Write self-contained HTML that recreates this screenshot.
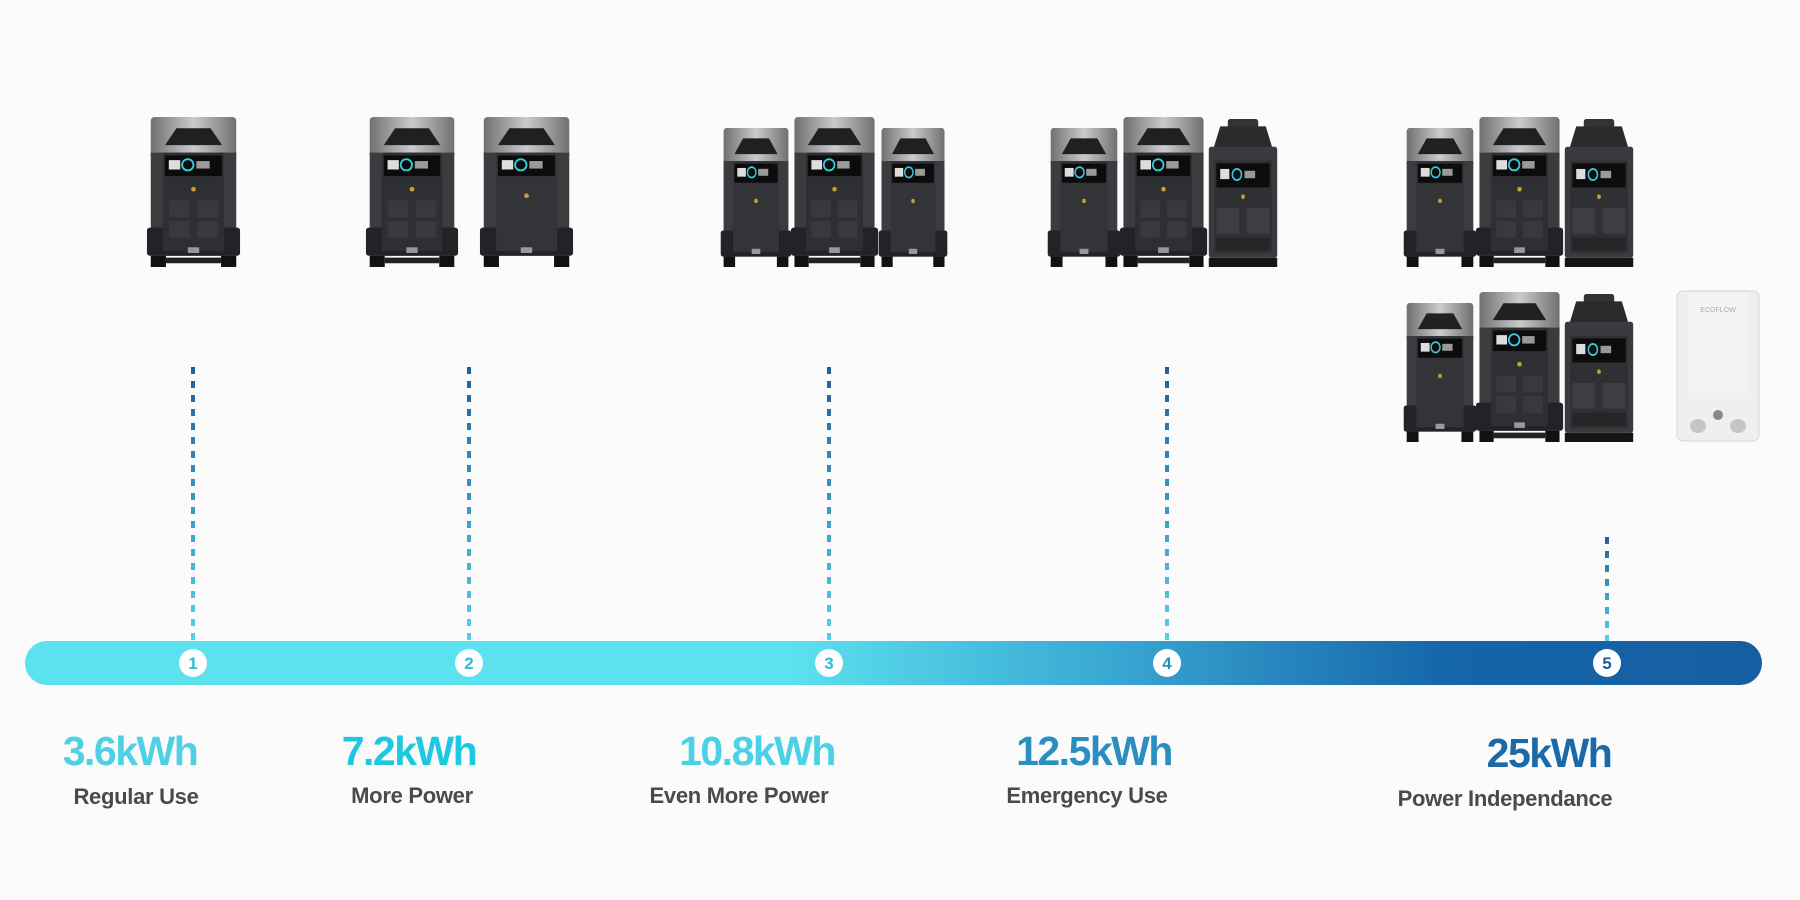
<!DOCTYPE html>
<html><head><meta charset="utf-8"><style>
html,body{margin:0;padding:0;background:#fbfbfb;}
#c{position:relative;width:1800px;height:900px;overflow:hidden;background:#fbfbfb;font-family:"Liberation Sans",sans-serif;}
svg.d{position:absolute;}
.v{position:absolute;font-weight:bold;font-size:41px;letter-spacing:-1.5px;transform:translateX(-50%);white-space:nowrap;line-height:1;}
.l{position:absolute;font-weight:bold;font-size:22px;letter-spacing:-0.3px;color:#4a4a4c;transform:translateX(-50%);white-space:nowrap;line-height:1;}
</style></head><body><div id="c">
<svg width="0" height="0" style="position:absolute">
<defs>
<linearGradient id="sil" x1="0" x2="1"><stop offset="0" stop-color="#6e7072"/><stop offset=".5" stop-color="#c9cbcd"/><stop offset="1" stop-color="#6e7072"/></linearGradient>
<symbol id="pro" viewBox="0 0 100 160" preserveAspectRatio="none">
<rect x="5" y="0" width="90" height="45" rx="4" fill="url(#sil)"/>
<path d="M20 30 L32 12 L68 12 L80 30 Z" fill="#1f2022"/>
<rect x="5" y="38" width="90" height="110" fill="#3b3c3f"/>
<rect x="1" y="118" width="98" height="30" rx="3" fill="#222326"/>
<rect x="18" y="38" width="64" height="105" rx="2" fill="#2e2f32"/>
<rect x="20" y="41" width="60" height="22" fill="#0c0c0d"/>
<rect x="24" y="46" width="12" height="10" fill="#ddd"/>
<circle cx="44" cy="51" r="6" fill="none" stroke="#38c8e0" stroke-width="2"/>
<rect x="53" y="47" width="14" height="8" fill="#999"/>
<circle cx="50" cy="77" r="2.5" fill="#c9a030"/>
<rect x="24" y="89" width="22" height="18" fill="#38393c"/><rect x="54" y="89" width="22" height="18" fill="#38393c"/>
<rect x="24" y="111" width="22" height="18" fill="#38393c"/><rect x="54" y="111" width="22" height="18" fill="#38393c"/>
<rect x="44" y="139" width="12" height="6" fill="#999"/>
<rect x="5" y="148" width="16" height="12" fill="#111"/><rect x="79" y="148" width="16" height="12" fill="#111"/>
<rect x="21" y="150" width="58" height="6" fill="#222"/>
</symbol>
<symbol id="bat" viewBox="0 0 100 160" preserveAspectRatio="none">
<rect x="5" y="0" width="90" height="45" rx="4" fill="url(#sil)"/>
<path d="M20 30 L32 12 L68 12 L80 30 Z" fill="#1f2022"/>
<rect x="5" y="38" width="90" height="110" fill="#3b3c3f"/>
<rect x="1" y="118" width="98" height="30" rx="3" fill="#222326"/>
<rect x="18" y="38" width="64" height="105" rx="2" fill="#333437"/>
<rect x="20" y="41" width="60" height="22" fill="#0c0c0d"/>
<rect x="24" y="46" width="12" height="10" fill="#ddd"/>
<circle cx="44" cy="51" r="6" fill="none" stroke="#38c8e0" stroke-width="2"/>
<rect x="53" y="47" width="14" height="8" fill="#999"/>
<circle cx="50" cy="84" r="2.5" fill="#c9a030"/>
<rect x="44" y="139" width="12" height="6" fill="#999"/>
<rect x="5" y="148" width="16" height="12" fill="#111"/><rect x="79" y="148" width="16" height="12" fill="#111"/>
</symbol>
<symbol id="gen" viewBox="0 0 100 160" preserveAspectRatio="none">
<rect x="30" y="0" width="40" height="12" rx="3" fill="#333"/>
<path d="M10 35 L20 8 L80 8 L90 35 Z" fill="#2a2b2d"/>
<rect x="5" y="30" width="90" height="120" rx="3" fill="#3a3b3e"/>
<rect x="12" y="45" width="76" height="100" fill="#2f3033"/>
<rect x="15" y="48" width="70" height="26" fill="#0c0c0d"/>
<rect x="20" y="54" width="12" height="11" fill="#ddd"/>
<circle cx="42" cy="60" r="6" fill="none" stroke="#38c8e0" stroke-width="2"/>
<rect x="52" y="56" width="14" height="8" fill="#999"/>
<circle cx="50" cy="84" r="2.5" fill="#c9a030"/>
<rect x="15" y="96" width="30" height="28" fill="#3d3e41"/><rect x="55" y="96" width="30" height="28" fill="#3d3e41"/>
<rect x="15" y="128" width="70" height="14" fill="#252628"/>
<rect x="5" y="150" width="90" height="10" fill="#151515"/>
</symbol>
</defs></svg>

<!-- step 1 -->
<svg class="d" style="left:146px;top:117px" width="95" height="150"><use href="#pro"/></svg>
<!-- step 2 -->
<svg class="d" style="left:365px;top:117px" width="94" height="150"><use href="#pro"/></svg>
<svg class="d" style="left:479px;top:117px" width="95" height="150"><use href="#bat"/></svg>
<!-- step 3 -->
<svg class="d" style="left:720px;top:128px" width="72" height="139"><use href="#bat"/></svg>
<svg class="d" style="left:878px;top:128px" width="70" height="139"><use href="#bat"/></svg>
<svg class="d" style="left:790px;top:117px" width="89" height="150"><use href="#pro"/></svg>
<!-- step 4 -->
<svg class="d" style="left:1047px;top:128px" width="74" height="139"><use href="#bat"/></svg>
<svg class="d" style="left:1205px;top:119px" width="76" height="148"><use href="#gen"/></svg>
<svg class="d" style="left:1119px;top:117px" width="89" height="150"><use href="#pro"/></svg>
<!-- step 5 row 1 -->
<svg class="d" style="left:1403px;top:128px" width="74" height="139"><use href="#bat"/></svg>
<svg class="d" style="left:1561px;top:119px" width="76" height="148"><use href="#gen"/></svg>
<svg class="d" style="left:1475px;top:117px" width="89" height="150"><use href="#pro"/></svg>
<!-- step 5 row 2 -->
<svg class="d" style="left:1403px;top:303px" width="74" height="139"><use href="#bat"/></svg>
<svg class="d" style="left:1561px;top:294px" width="76" height="148"><use href="#gen"/></svg>
<svg class="d" style="left:1475px;top:292px" width="89" height="150"><use href="#pro"/></svg>
<svg class="d" style="left:1676px;top:290px" width="84" height="152" viewBox="0 0 84 152">
<rect x="1" y="1" width="82" height="150" rx="6" fill="#eeeff0" stroke="#d4d5d7"/>
<rect x="12" y="3" width="60" height="100" fill="#f4f4f5"/>
<text x="42" y="22" font-family="Liberation Sans,sans-serif" font-size="7" fill="#aaa" text-anchor="middle">ECOFLOW</text>
<circle cx="42" cy="125" r="5" fill="#888"/>
<ellipse cx="22" cy="136" rx="8" ry="7" fill="#c4c5c7"/><ellipse cx="62" cy="136" rx="8" ry="7" fill="#c4c5c7"/>
</svg>

<!-- timeline -->
<svg class="d" style="left:0;top:0" width="1800" height="900">
<defs><linearGradient id="bar" x1="25" y1="0" x2="1762" y2="0" gradientUnits="userSpaceOnUse">
<stop offset="0" stop-color="#5ce1ee"/><stop offset=".44" stop-color="#5ce1ee"/>
<stop offset=".62" stop-color="#3aa9d4"/><stop offset=".82" stop-color="#1565a9"/><stop offset="1" stop-color="#165ea2"/></linearGradient>
<linearGradient id="dl" x1="0" y1="367" x2="0" y2="643" gradientUnits="userSpaceOnUse"><stop offset="0" stop-color="#1e5fa0"/><stop offset="1" stop-color="#52d4ea"/></linearGradient>
<linearGradient id="dl5" x1="0" y1="537" x2="0" y2="643" gradientUnits="userSpaceOnUse"><stop offset="0" stop-color="#1e5fa0"/><stop offset="1" stop-color="#52d4ea"/></linearGradient></defs>
<g stroke-width="4" stroke-dasharray="7,7">
<line x1="193" y1="367" x2="193" y2="643" stroke="url(#dl)"/>
<line x1="469" y1="367" x2="469" y2="643" stroke="url(#dl)"/>
<line x1="829" y1="367" x2="829" y2="643" stroke="url(#dl)"/>
<line x1="1167" y1="367" x2="1167" y2="643" stroke="url(#dl)"/>
<line x1="1607" y1="537" x2="1607" y2="643" stroke="url(#dl5)"/>
</g>
<rect x="25" y="641" width="1737" height="44" rx="22" fill="url(#bar)"/>
<g font-family="Liberation Sans,sans-serif" font-weight="bold" font-size="17" text-anchor="middle">
<circle cx="193" cy="663" r="14" fill="#fff"/><text x="193" y="669" fill="#2bbcd6">1</text>
<circle cx="469" cy="663" r="14" fill="#fff"/><text x="469" y="669" fill="#2bbcd6">2</text>
<circle cx="829" cy="663" r="14" fill="#fff"/><text x="829" y="669" fill="#2bbcd6">3</text>
<circle cx="1167" cy="663" r="14" fill="#fff"/><text x="1167" y="669" fill="#2a8fc0">4</text>
<circle cx="1607" cy="663" r="14" fill="#fff"/><text x="1607" y="669" fill="#1a5fa0">5</text>
</g>
</svg>

<div class="v" style="left:130px;top:731px;color:#4fd0e4">3.6kWh</div>
<div class="v" style="left:409px;top:731px;color:#1ec8e0">7.2kWh</div>
<div class="v" style="left:757px;top:731px;color:#4cd0e6">10.8kWh</div>
<div class="v" style="left:1094px;top:731px;color:#2a8fc0">12.5kWh</div>
<div class="v" style="left:1549px;top:733px;color:#1a6aaa">25kWh</div>
<div class="l" style="left:136px;top:786px">Regular Use</div>
<div class="l" style="left:412px;top:785px">More Power</div>
<div class="l" style="left:739px;top:785px">Even More Power</div>
<div class="l" style="left:1087px;top:785px">Emergency Use</div>
<div class="l" style="left:1505px;top:788px">Power Independance</div>
</div></body></html>
